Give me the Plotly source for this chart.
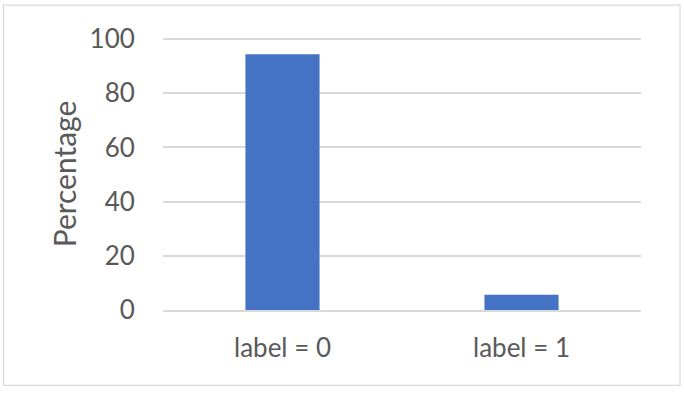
import plotly.graph_objects as go

categories = ["label = 0", "label = 1"]
percentages = [94.4, 5.6]
y_ticks = [0, 20, 40, 60, 80, 100]

FONT = "Lato"
TXT = "#595959"

fig = go.Figure()
fig.add_trace(go.Bar(x=categories, y=percentages, marker=dict(color="#4472C4", line=dict(width=0))))

W, H = 684, 393
L, R, B = 163, 43, 82.5
YTOP = 100.4
T = 39 - (YTOP - 100) * (H - B - 39) / 100
pw, ph = W - L - R, H - T - B

fig.update_layout(
    width=W, height=H,
    margin=dict(l=L, r=R, t=T, b=B),
    paper_bgcolor="white", plot_bgcolor="white",
    bargap=0.69,
    showlegend=False,
    font=dict(family=FONT, color=TXT, size=26),
    xaxis=dict(
        showgrid=False, showline=True, linecolor="#d9d9d9", linewidth=1.5,
        ticks="outside", ticklen=14, tickcolor="rgba(0,0,0,0)",
        tickfont=dict(size=26, color=TXT, family=FONT),
    ),
    yaxis=dict(
        range=[0, YTOP], tickvals=y_ticks, showgrid=True, gridcolor="#d9d9d9", gridwidth=1.5,
        zeroline=False, showline=False,
        ticks="outside", ticklen=22, tickcolor="rgba(0,0,0,0)",
        tickfont=dict(size=26, color=TXT, family=FONT),
        title=dict(text="Percentage", font=dict(size=30, color=TXT, family=FONT), standoff=4),
    ),
    shapes=[dict(
        type="rect", xref="paper", yref="paper",
        x0=(3.5 - L) / pw, x1=(680 - L) / pw,
        y0=(H - B - 386) / ph, y1=(H - B - 5) / ph,
        line=dict(color="#d9d9d9", width=1.2), fillcolor="rgba(0,0,0,0)", layer="below",
    )],
)

fig.write_html(
    "out.html",
    config={"displayModeBar": False},
    post_script="document.body.style.margin='0';document.body.style.overflow='hidden';",
)
